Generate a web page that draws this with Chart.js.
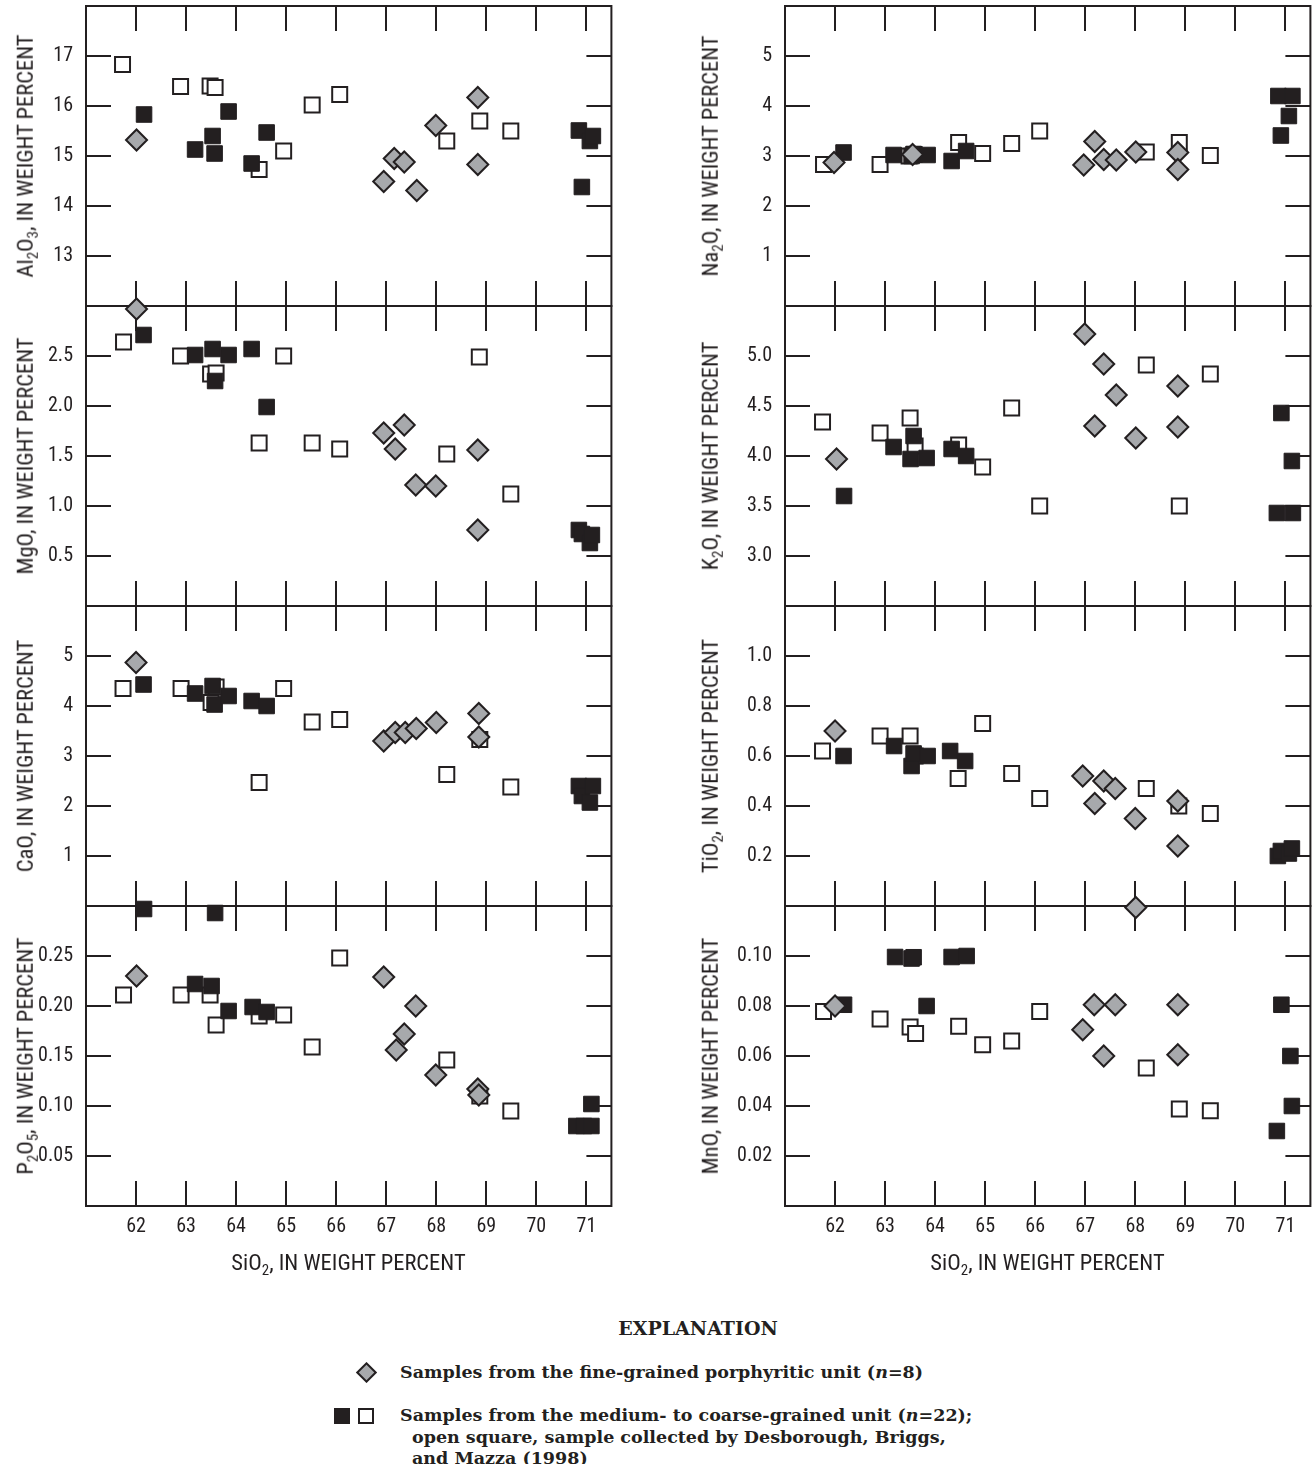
<!DOCTYPE html>
<html>
<head>
<meta charset="utf-8">
<script src="https://cdn.jsdelivr.net/npm/chart.js@4.4.1/dist/chart.umd.min.js"></script>
<style>
html,body{margin:0;padding:0;background:#fff;}
#wrap{position:relative;width:1314px;height:1464px;overflow:hidden;background:#fff;}
#wrap canvas{position:absolute;}
.nar{font-family:'Liberation Sans Narrow','Roboto Condensed','Arial Narrow','Liberation Sans',sans-serif;color:#231f20;font-size:22.5px;white-space:nowrap;position:absolute;line-height:1;}
.ytitle{transform:translate(-50%,-50%) rotate(-90deg);}
.xtitle{transform:translate(-50%,-50%);}
.nar sub{font-size:15px;vertical-align:-5px;line-height:0;}
.leg{position:absolute;font-family:'DejaVu Serif','Liberation Serif',serif;font-weight:bold;color:#231f20;font-size:17.5px;white-space:nowrap;line-height:1;}
.sym{position:absolute;box-sizing:border-box;}
</style>
</head>
<body>
<div id="wrap"></div>
<script>
// ---------- data (SiO2, oxide) in weight percent ----------
const SIO2_TICKS = [62, 63, 64, 65, 66, 67, 68, 69, 70, 71];

// Al2O3
const al2o3Fine   = [[62.01,15.32],[66.95,14.49],[67.16,14.95],[67.36,14.88],[67.61,14.31],[67.99,15.61],[68.83,16.17],[68.83,14.83]];
const al2o3Filled = [[62.16,15.83],[63.18,15.13],[63.53,15.40],[63.57,15.05],[63.85,15.89],[64.31,14.85],[64.61,15.47],[70.85,15.51],[70.91,14.38],[71.07,15.30],[71.13,15.40]];
const al2o3Open   = [[61.73,16.83],[62.89,16.39],[63.48,16.40],[63.58,16.37],[64.46,14.73],[64.95,15.10],[65.52,16.02],[66.07,16.23],[68.21,15.30],[68.87,15.70],[69.49,15.50]];
const al2o3Ticks  = [13, 14, 15, 16, 17];

// MgO
const mgoFine   = [[62.01,2.97],[66.95,1.73],[67.18,1.57],[67.36,1.81],[67.59,1.21],[67.99,1.20],[68.83,1.56],[68.83,0.76]];
const mgoFilled = [[62.15,2.71],[63.18,2.51],[63.53,2.57],[63.58,2.25],[63.85,2.51],[64.31,2.57],[64.61,1.99],[70.85,0.76],[70.91,0.72],[71.07,0.63],[71.11,0.71]];
const mgoOpen   = [[61.75,2.64],[62.89,2.50],[63.49,2.32],[63.60,2.33],[64.46,1.63],[64.95,2.50],[65.52,1.63],[66.07,1.57],[68.21,1.52],[68.86,2.49],[69.49,1.12]];
const mgoTicks  = [0.5, 1.0, 1.5, 2.0, 2.5];

// CaO
const caoFine   = [[62.00,4.87],[66.95,3.30],[67.18,3.47],[67.38,3.47],[67.60,3.55],[68.00,3.67],[68.85,3.85],[68.85,3.38]];
const caoFilled = [[62.15,4.43],[63.18,4.25],[63.53,4.40],[63.57,4.03],[63.85,4.20],[64.31,4.10],[64.61,4.00],[70.85,2.40],[70.91,2.20],[71.07,2.07],[71.13,2.40]];
const caoOpen   = [[61.74,4.35],[62.90,4.35],[63.50,4.07],[63.60,4.38],[64.46,2.47],[64.95,4.35],[65.52,3.68],[66.07,3.73],[68.21,2.63],[68.87,3.33],[69.49,2.38]];
const caoTicks  = [1, 2, 3, 4, 5];

// P2O5
const p2o5Fine   = [[62.01,0.230],[66.95,0.229],[67.20,0.156],[67.36,0.172],[67.59,0.200],[67.99,0.131],[68.83,0.117],[68.85,0.111]];
const p2o5Filled = [[62.16,0.297],[63.18,0.222],[63.51,0.220],[63.58,0.293],[63.85,0.195],[64.33,0.199],[64.61,0.194],[70.80,0.080],[70.95,0.080],[71.10,0.080],[71.10,0.102]];
const p2o5Open   = [[61.75,0.211],[62.90,0.211],[63.48,0.211],[63.60,0.181],[64.46,0.190],[64.95,0.191],[65.52,0.159],[66.07,0.248],[68.21,0.146],[68.87,0.110],[69.49,0.095]];
const p2o5Ticks  = [0.05, 0.10, 0.15, 0.20, 0.25];

// Na2O
const na2oFine   = [[61.98,2.87],[63.55,3.03],[66.97,2.82],[67.19,3.29],[67.37,2.93],[67.62,2.92],[68.01,3.08],[68.85,3.07],[68.85,2.73]];
const na2oFilled = [[62.17,3.07],[63.17,3.02],[63.53,3.00],[63.57,3.04],[63.85,3.02],[64.33,2.90],[64.62,3.10],[70.86,4.20],[70.91,3.41],[71.07,3.80],[71.14,4.20]];
const na2oOpen   = [[61.77,2.83],[62.90,2.83],[63.48,3.00],[63.58,3.03],[64.47,3.27],[64.95,3.05],[65.53,3.25],[66.09,3.50],[68.22,3.08],[68.88,3.27],[69.50,3.01]];
const na2oTicks  = [1, 2, 3, 4, 5];

// K2O
const k2oFine   = [[62.03,3.97],[66.99,5.22],[67.19,4.30],[67.37,4.92],[67.62,4.61],[68.01,4.18],[68.85,4.70],[68.85,4.29]];
const k2oFilled = [[62.18,3.60],[63.17,4.09],[63.51,3.97],[63.57,4.20],[63.83,3.98],[64.33,4.07],[64.62,4.00],[70.83,3.43],[70.92,4.43],[71.13,3.95],[71.15,3.43]];
const k2oOpen   = [[61.75,4.34],[62.90,4.23],[63.50,4.38],[63.60,4.10],[64.47,4.11],[64.95,3.89],[65.53,4.48],[66.09,3.50],[68.22,4.91],[68.88,3.50],[69.50,4.82]];
const k2oTicks  = [3.0, 3.5, 4.0, 4.5, 5.0];

// TiO2
const tio2Fine   = [[62.00,0.70],[66.95,0.52],[67.19,0.41],[67.37,0.50],[67.60,0.47],[68.00,0.35],[68.85,0.42],[68.85,0.24]];
const tio2Filled = [[62.17,0.60],[63.18,0.64],[63.53,0.56],[63.57,0.61],[63.85,0.60],[64.30,0.62],[64.60,0.58],[70.85,0.20],[70.91,0.22],[71.07,0.21],[71.13,0.23]];
const tio2Open   = [[61.75,0.62],[62.90,0.68],[63.50,0.68],[63.60,0.60],[64.46,0.51],[64.95,0.73],[65.53,0.53],[66.09,0.43],[68.22,0.47],[68.87,0.40],[69.50,0.37]];
const tio2Ticks  = [0.2, 0.4, 0.6, 0.8, 1.0];

// MnO
const mnoFine   = [[62.00,0.0800],[66.95,0.0705],[67.18,0.0805],[67.37,0.0600],[67.60,0.0805],[68.01,0.1194],[68.85,0.0805],[68.85,0.0605]];
const mnoFilled = [[62.18,0.0805],[63.20,0.0996],[63.53,0.0990],[63.57,0.0995],[63.83,0.0800],[64.33,0.0996],[64.63,0.1000],[70.83,0.0300],[70.92,0.0805],[71.10,0.0600],[71.13,0.0400]];
const mnoOpen   = [[61.77,0.0778],[62.90,0.0748],[63.50,0.0716],[63.61,0.0690],[64.47,0.0719],[64.95,0.0645],[65.53,0.0660],[66.09,0.0778],[68.22,0.0552],[68.88,0.0388],[69.50,0.0381]];
const mnoTicks  = [0.02, 0.04, 0.06, 0.08, 0.10];

// ---------- panels ----------
const panels = [
  {col:0,row:0,title:'Al<sub>2</sub>O<sub>3</sub>, IN WEIGHT PERCENT',min:12,max:18,dec:0,ticks:al2o3Ticks,fine:al2o3Fine,filled:al2o3Filled,open:al2o3Open},
  {col:0,row:1,title:'MgO, IN WEIGHT PERCENT',min:0,max:3,dec:1,ticks:mgoTicks,fine:mgoFine,filled:mgoFilled,open:mgoOpen},
  {col:0,row:2,title:'CaO, IN WEIGHT PERCENT',min:0,max:6,dec:0,ticks:caoTicks,fine:caoFine,filled:caoFilled,open:caoOpen},
  {col:0,row:3,title:'P<sub>2</sub>O<sub>5</sub>, IN WEIGHT PERCENT',min:0,max:0.3,dec:2,ticks:p2o5Ticks,fine:p2o5Fine,filled:p2o5Filled,open:p2o5Open},
  {col:1,row:0,title:'Na<sub>2</sub>O, IN WEIGHT PERCENT',min:0,max:6,dec:0,ticks:na2oTicks,fine:na2oFine,filled:na2oFilled,open:na2oOpen},
  {col:1,row:1,title:'K<sub>2</sub>O, IN WEIGHT PERCENT',min:2.5,max:5.5,dec:1,ticks:k2oTicks,fine:k2oFine,filled:k2oFilled,open:k2oOpen},
  {col:1,row:2,title:'TiO<sub>2</sub>, IN WEIGHT PERCENT',min:0,max:1.2,dec:1,ticks:tio2Ticks,fine:tio2Fine,filled:tio2Filled,open:tio2Open},
  {col:1,row:3,title:'MnO, IN WEIGHT PERCENT',min:0,max:0.12,dec:2,ticks:mnoTicks,fine:mnoFine,filled:mnoFilled,open:mnoOpen}
];

const INK = '#231f20';
const GRAY = '#a7a9ac';
const FONT = "'Liberation Sans Narrow','Roboto Condensed','Arial Narrow','Liberation Sans',sans-serif";
const TICK_LEN = 25;
const PLOT_W = 525, PLOT_H = 300;

Chart.defaults.font.family = FONT;
Chart.defaults.color = INK;

const frameTicks = {
  id: 'frameTicks',
  beforeDatasetsDraw(chart) {
    const {ctx, chartArea: a} = chart;
    const xs = chart.scales.x, ys = chart.scales.y;
    ctx.save();
    ctx.strokeStyle = INK;
    ctx.lineWidth = 2;
    ctx.strokeRect(a.left, a.top, a.right - a.left, a.bottom - a.top);
    ctx.beginPath();
    SIO2_TICKS.forEach(v => {
      const px = Math.round(xs.getPixelForValue(v));
      ctx.moveTo(px, a.top); ctx.lineTo(px, a.top + TICK_LEN);
      ctx.moveTo(px, a.bottom); ctx.lineTo(px, a.bottom - TICK_LEN);
    });
    ys.ticks.forEach(t => {
      const py = Math.round(ys.getPixelForValue(t.value));
      ctx.moveTo(a.left, py); ctx.lineTo(a.left + TICK_LEN, py);
      ctx.moveTo(a.right, py); ctx.lineTo(a.right - TICK_LEN, py);
    });
    ctx.stroke();
    ctx.restore();
  }
};

const wrap = document.getElementById('wrap');
const toXY = arr => arr.map(([x, y]) => ({x, y}));

function makeConfig(p, bottom, MT, MR, MB, ML) {
  return {
    type: 'scatter',
    data: {
      datasets: [
        {label: 'fine', data: toXY(p.fine), pointStyle: 'rectRot', pointRadius: 10.5, pointHoverRadius: 10.5,
         backgroundColor: GRAY, borderColor: INK, borderWidth: 2, pointHoverBorderWidth: 2, clip: false},
        {label: 'filled', data: toXY(p.filled), pointStyle: 'rect', pointRadius: 11, pointHoverRadius: 11,
         backgroundColor: INK, borderColor: INK, borderWidth: 1, clip: false},
        {label: 'open', data: toXY(p.open), pointStyle: 'rect', pointRadius: 10.6, pointHoverRadius: 10.6,
         backgroundColor: '#ffffff', borderColor: INK, borderWidth: 2, pointHoverBorderWidth: 2, clip: false}
      ]
    },
    options: {
      responsive: false,
      maintainAspectRatio: false,
      animation: false,
      events: [],
      devicePixelRatio: 1,
      layout: {padding: {left: 0, top: MT, right: MR, bottom: bottom ? 0 : MB}},
      plugins: {legend: {display: false}, tooltip: {enabled: false}},
      scales: {
        x: {
          type: 'linear', min: 61, max: 71.5, display: bottom,
          grid: {display: false, drawTicks: false}, border: {display: false},
          afterBuildTicks: s => { s.ticks = SIO2_TICKS.map(v => ({value: v})); },
          afterFit: s => { s.height = MB; },
          ticks: {padding: 9, autoSkip: false, maxRotation: 0, font: {size: 20}, color: INK, callback: v => String(v)}
        },
        y: {
          type: 'linear', min: p.min, max: p.max,
          grid: {display: false, drawTicks: false}, border: {display: false},
          afterBuildTicks: s => { s.ticks = p.ticks.map(v => ({value: v})); },
          afterFit: s => { s.width = ML; },
          ticks: {padding: 13, autoSkip: false, font: {size: 20}, color: INK, callback: v => Number(v).toFixed(p.dec)}
        }
      }
    },
    plugins: [frameTicks]
  };
}

function buildChart(p, W, H, bottom, MT, MR, MB, ML) {
  const c = document.createElement('canvas');
  c.width = W; c.height = H;
  c.style.width = W + 'px'; c.style.height = H + 'px';
  c.style.left = '0px'; c.style.top = '0px';
  wrap.appendChild(c);
  const chart = new Chart(c, makeConfig(p, bottom, MT, MR, MB, ML));
  return {c, chart};
}

panels.forEach(p => {
  const plotLeft = p.col === 0 ? 86 : 785;
  const plotTop = 6 + PLOT_H * p.row;
  const bottom = p.row === 3;
  const ML = 86, MT = 16, MR = p.col === 0 ? 10 : 4, MB = bottom ? 44 : 16;
  let W = ML + PLOT_W + MR, H = MT + PLOT_H + MB;

  // measure the plot area the layout gives, then size the canvas so it is exactly PLOT_W x PLOT_H
  let built = buildChart(p, W, H, bottom, MT, MR, MB, ML);
  let a = built.chart.chartArea;
  const dW = Math.round(PLOT_W - (a.right - a.left));
  const dH = Math.round(PLOT_H - (a.bottom - a.top));
  if (dW !== 0 || dH !== 0) {
    built.chart.destroy();
    built.c.remove();
    W += dW; H += dH;
    built = buildChart(p, W, H, bottom, MT, MR, MB, ML);
    a = built.chart.chartArea;
  }
  built.c.style.left = Math.round(plotLeft - a.left) + 'px';
  built.c.style.top = Math.round(plotTop - a.top) + 'px';

  const t = document.createElement('div');
  t.className = 'nar ytitle';
  t.innerHTML = p.title;
  t.style.left = (p.col === 0 ? 25 : 710) + 'px';
  t.style.top = (plotTop + PLOT_H / 2) + 'px';
  wrap.appendChild(t);

  if (bottom) {
    const xt = document.createElement('div');
    xt.className = 'nar xtitle';
    xt.innerHTML = 'SiO<sub>2</sub>, IN WEIGHT PERCENT';
    xt.style.left = (plotLeft + PLOT_W / 2) + 'px';
    xt.style.top = '1262px';
    wrap.appendChild(xt);
  }
});

// ---------- explanation ----------
function addEl(cls, html, css) {
  const d = document.createElement('div');
  d.className = cls;
  d.innerHTML = html;
  Object.assign(d.style, css);
  wrap.appendChild(d);
  return d;
}
addEl('leg', 'EXPLANATION', {left: '698px', top: '1328px', transform: 'translate(-50%,-50%)', fontSize: '19px'});
addEl('sym', '', {left: '359px', top: '1365px', width: '15px', height: '15px', background: GRAY, border: '2px solid ' + INK, transform: 'rotate(45deg)'});
addEl('leg', 'Samples from the fine-grained porphyritic unit (<i>n</i>=8)', {left: '400px', top: '1364px'});
addEl('sym', '', {left: '334px', top: '1408px', width: '16px', height: '16px', background: INK});
addEl('sym', '', {left: '358px', top: '1408px', width: '16px', height: '16px', background: '#fff', border: '2px solid ' + INK});
addEl('leg', 'Samples from the medium- to coarse-grained unit (<i>n</i>=22);', {left: '400px', top: '1407px'});
addEl('leg', 'open square, sample collected by Desborough, Briggs,', {left: '412px', top: '1429px'});
addEl('leg', 'and Mazza (1998)', {left: '412px', top: '1450px'});
</script>
</body>
</html>
